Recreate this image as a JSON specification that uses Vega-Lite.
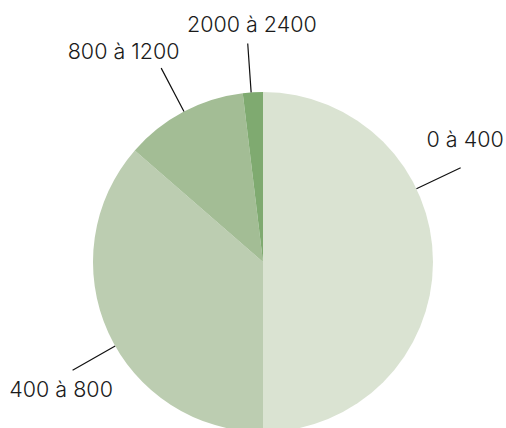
{
  "$schema": "https://vega.github.io/schema/vega-lite/v6.json",
  "width": 486,
  "height": 332,
  "autosize": "none",
  "padding": {"left": 20, "top": 96, "right": 0, "bottom": 0},
  "background": "white",
  "view": {"stroke": null},
  "data": {"values": [
    {"range": "0 à 400", "idx": 1, "pct": 50.0, "lineAngle": 64.5, "labelAngle": 59.1, "labelRadius": 235.5},
    {"range": "400 à 800", "idx": 2, "pct": 36.4, "lineAngle": 240.4, "labelAngle": 237.4, "labelRadius": 239.7},
    {"range": "800 à 1200", "idx": 3, "pct": 11.7, "lineAngle": 332.3, "labelAngle": 326.3, "labelRadius": 251.2},
    {"range": "2000 à 2400", "idx": 4, "pct": 1.9, "lineAngle": 356, "labelAngle": 357.3, "labelRadius": 236.3}
  ]},
  "layer": [
    {
      "mark": {"type": "arc", "radius": 170, "stroke": null},
      "encoding": {
        "theta": {"field": "pct", "type": "quantitative", "stack": true},
        "order": {"field": "idx", "type": "quantitative"},
        "color": {
          "field": "range", "type": "nominal", "legend": null,
          "scale": {
            "domain": ["0 à 400", "400 à 800", "800 à 1200", "2000 à 2400"],
            "range": ["#dae3d2", "#bccdb1", "#a3bd95", "#7faa70"]
          }
        }
      }
    },
    {
      "mark": {"type": "arc", "radius": 219, "radius2": 170, "fill": null, "stroke": "#111111", "strokeWidth": 1.2},
      "encoding": {
        "theta": {"field": "lineAngle", "type": "quantitative", "stack": null, "scale": {"domain": [0, 360]}},
        "theta2": {"field": "lineAngle"}
      }
    },
    {
      "mark": {"type": "text", "font": "Inter", "fontSize": 21.5, "fontWeight": 300, "color": "#1a1a1a", "align": "center", "baseline": "middle"},
      "encoding": {
        "theta": {"field": "labelAngle", "type": "quantitative", "stack": null, "scale": {"domain": [0, 360]}},
        "radius": {"field": "labelRadius", "type": "quantitative", "scale": {"type": "linear", "domain": [0, 300], "range": [0, 300], "zero": true}},
        "text": {"field": "range", "type": "nominal"}
      }
    }
  ],
  "resolve": {"scale": {"theta": "independent"}}
}
